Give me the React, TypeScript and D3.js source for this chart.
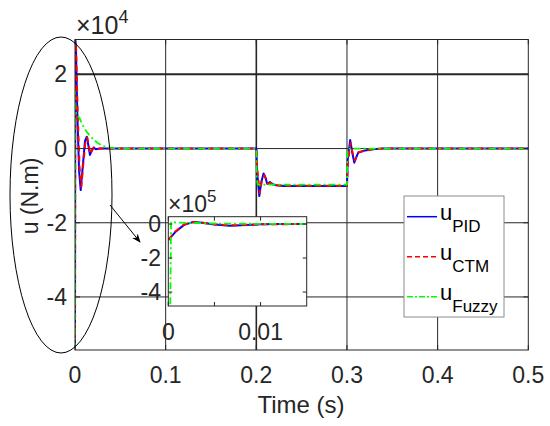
import React from "react";
import * as d3 from "d3";

// ---- main chart data (u in x10^4 N.m, t in s) ----
const xTicks = [0, 0.1, 0.2, 0.3, 0.4, 0.5];
const xTickLabels = ["0", "0.1", "0.2", "0.3", "0.4", "0.5"];
const yTicks = [-4, -2, 0, 2];
const yTickLabels = ["-4", "-2", "0", "2"];

const tPID = [0, 0.0003, 0.001, 0.0025, 0.0045, 0.0063, 0.0085, 0.011, 0.013, 0.015, 0.0165, 0.0185, 0.0205, 0.023, 0.027, 0.033,
  0.2, 0.2008, 0.2033, 0.2055, 0.208, 0.21, 0.212, 0.215, 0.218, 0.222, 0.23, 0.25,
  0.3, 0.3008, 0.3035, 0.3058, 0.308, 0.31, 0.3125, 0.315, 0.32, 0.328, 0.34, 0.5];
const vPID = [-5.43, 2.95, 2.8, 1.0, -0.6, -1.12, -0.5, 0.2, 0.32, 0.05, -0.17, -0.05, 0.03, -0.02, 0.0, 0.0,
  0.0, -0.6, -1.28, -0.9, -0.67, -0.78, -0.95, -0.9, -0.96, -0.99, -1.01, -1.01,
  -1.01, -0.3, 0.23, -0.1, -0.38, -0.25, -0.1, -0.09, -0.05, -0.02, 0.0, 0.0];

const tCTM = [0, 0.0004, 0.0012, 0.003, 0.005, 0.007, 0.009, 0.0115, 0.0135, 0.0155, 0.017, 0.019, 0.021, 0.024, 0.028, 0.033,
  0.2, 0.201, 0.2038, 0.206, 0.2088, 0.2105, 0.2125, 0.2155, 0.219, 0.223, 0.23, 0.25,
  0.3, 0.301, 0.304, 0.306, 0.3085, 0.3105, 0.313, 0.316, 0.321, 0.328, 0.34, 0.5];
const vCTM = [-5.43, 2.85, 2.7, 0.9, -0.5, -1.03, -0.45, 0.18, 0.3, 0.05, -0.15, -0.04, 0.03, -0.02, 0.0, 0.0,
  0.0, -0.55, -1.2, -0.88, -0.72, -0.8, -0.95, -0.92, -0.97, -0.99, -1.0, -1.0,
  -1.0, -0.35, 0.15, -0.1, -0.32, -0.22, -0.1, -0.08, -0.05, -0.02, 0.0, 0.0];

const tFuzzy = [0, 0.0002, 0.0006, 0.002, 0.005, 0.008, 0.012, 0.016, 0.02, 0.025, 0.03, 0.035, 0.04, 0.05,
  0.2, 0.2004, 0.2015, 0.3, 0.3004, 0.3015, 0.5];
const vFuzzy = [-5.43, 1.55, 1.0, 0.9, 0.82, 0.65, 0.48, 0.36, 0.25, 0.15, 0.08, 0.04, 0.02, 0.0,
  0.0, -0.8, -0.97, -0.97, -0.1, 0.0, 0.0];

// ---- inset data (u in x10^5 N.m, t in s) ----
const insetXTicks = [0, 0.005, 0.01];
const insetXTickLabels = ["0", "", "0.01"];
const insetYTicks = [-4, -2, 0];
const insetYTickLabels = ["-4", "-2", "0"];

const tPIDIn = [0, 0.0008, 0.0017, 0.0027, 0.0037, 0.005, 0.0067, 0.0085, 0.01, 0.012, 0.015];
const vPIDIn = [-0.95, -0.45, -0.05, 0.12, 0.08, -0.03, -0.1, -0.06, -0.02, 0.0, 0.0];
const tCTMIn = [0, 0.0008, 0.0017, 0.0027, 0.0037, 0.005, 0.0067, 0.0085, 0.01, 0.012, 0.015];
const vCTMIn = [-0.92, -0.42, -0.03, 0.12, 0.07, -0.02, -0.08, -0.05, -0.02, -0.01, 0.0];
const tFuzzyIn = [0.0002, 0.0003, 0.002, 0.005, 0.01, 0.015];
const vFuzzyIn = [-5.6, 0.1, 0.07, 0.03, 0.01, 0.0];

const seriesNames = ["PID", "CTM", "Fuzzy"];

const FONT = "'Liberation Sans', Arial, Helvetica, sans-serif";
const AX = "#262626";
const TICK_FS = 23;

type S = { t: number[]; v: number[]; color: string; dash: string; width: number };

export default function App() {
  const W = 550, H = 426;
  const L = 75, R = 528.3, T = 39.5, B = 350;
  const x = d3.scaleLinear().domain([0, 0.5]).range([L, R]);
  const y = d3.scaleLinear().domain([-5.43, 2.94]).range([B, T]);

  const iL = 168.3, iR = 306.7, iT = 216.7, iB = 306;
  const xi = d3.scaleLinear().domain([0, 0.015]).range([iL, iR]);
  const yi = d3.scaleLinear().domain([-4.82, 0.43]).range([iB, iT]);

  const mainSeries: S[] = [
    { t: tPID, v: vPID, color: "#0000ff", dash: "none", width: 2 },
    { t: tCTM, v: vCTM, color: "#ff0000", dash: "6,4", width: 2 },
    { t: tFuzzy, v: vFuzzy, color: "#00ff00", dash: "7,3,2,3", width: 1.8 },
  ];
  const insetSeries: S[] = [
    { t: tPIDIn, v: vPIDIn, color: "#0000ff", dash: "none", width: 2 },
    { t: tCTMIn, v: vCTMIn, color: "#ff0000", dash: "6,4", width: 2 },
    { t: tFuzzyIn, v: vFuzzyIn, color: "#00ff00", dash: "7,3,2,3", width: 1.8 },
  ];

  const mkLine = (sx: any, sy: any) =>
    d3.line<[number, number]>().x((d) => sx(d[0])).y((d) => sy(d[1]));
  const mainLine = mkLine(x, y);
  const inLine = mkLine(xi, yi);
  const pts = (s: S) => s.t.map((t, i) => [t, s.v[i]] as [number, number]);

  const legendX = 404, legendY = 196, legendW = 100, legendH = 121;
  const legendRows = [216.7, 256.7, 296.7];

  return (
    <svg width={W} height={H} style={{ position: "absolute", left: 0, top: 0, background: "#fff" }} fontFamily={FONT}>
      <defs>
        <clipPath id="mainClip"><rect x={L} y={T} width={R - L} height={B - T} /></clipPath>
        <clipPath id="inClip"><rect x={iL} y={iT} width={iR - iL} height={iB - iT} /></clipPath>
        <marker id="arrowHead" viewBox="0 0 10 10" refX="9" refY="5" markerWidth="9" markerHeight="9" orient="auto">
          <path d="M0,1 L10,5 L0,9 L3,5 Z" fill="#000" />
        </marker>
      </defs>
      <rect x={0} y={0} width={W} height={H} fill="#fff" />
      {/* grid */}
      {xTicks.slice(1, -1).map((t) => (
        <line key={"gx" + t} x1={x(t)} x2={x(t)} y1={T} y2={B} stroke={AX} strokeWidth={t === 0.2 ? 1.6 : 1} />
      ))}
      {yTicks.map((t) => (
        <line key={"gy" + t} x1={L} x2={R} y1={y(t)} y2={y(t)} stroke={AX} strokeWidth={t === 2 ? 2 : 1} />
      ))}
      {/* data */}
      <g clipPath="url(#mainClip)">
        {mainSeries.map((s, i) => (
          <path key={i} d={mainLine(pts(s)) || ""} fill="none" stroke={s.color} strokeWidth={s.width}
            strokeDasharray={s.dash} strokeLinejoin="round" />
        ))}
      </g>
      {/* axes box */}
      <rect x={L} y={T} width={R - L} height={B - T} fill="none" stroke={AX} strokeWidth={1} />
      {xTicks.map((t, i) => (
        <g key={"xt" + t}>
          <line x1={x(t)} x2={x(t)} y1={B} y2={B - 5} stroke={AX} />
          <line x1={x(t)} x2={x(t)} y1={T} y2={T + 5} stroke={AX} />
          <text x={x(t)} y={383} fontSize={TICK_FS} textAnchor="middle" fill={AX}>{xTickLabels[i]}</text>
        </g>
      ))}
      {yTicks.map((t, i) => (
        <g key={"yt" + t}>
          <line x1={L} x2={L + 5} y1={y(t)} y2={y(t)} stroke={AX} />
          <line x1={R} x2={R - 5} y1={y(t)} y2={y(t)} stroke={AX} />
          <text x={67} y={y(t) + 8} fontSize={TICK_FS} textAnchor="end" fill={AX}>{yTickLabels[i]}</text>
        </g>
      ))}
      <text x={76} y={34} fontSize={25} fill={AX}>
        ×10<tspan fontSize={18} dy={-11}>4</tspan>
      </text>
      <text x={301} y={413} fontSize={24} textAnchor="middle" fill={AX}>Time (s)</text>
      <text transform="translate(38,196) rotate(-90)" fontSize={23} textAnchor="middle" fill={AX}>u (N.m)</text>

      {/* inset */}
      <rect x={iL} y={iT} width={iR - iL} height={iB - iT} fill="#fff" />
      <g clipPath="url(#inClip)">
        {insetSeries.map((s, i) => (
          <path key={i} d={inLine(pts(s)) || ""} fill="none" stroke={s.color} strokeWidth={s.width}
            strokeDasharray={s.dash} strokeLinejoin="round" />
        ))}
      </g>
      <rect x={iL} y={iT} width={iR - iL} height={iB - iT} fill="none" stroke={AX} strokeWidth={1} />
      {insetXTicks.map((t, i) => (
        <g key={"ixt" + t}>
          <line x1={xi(t)} x2={xi(t)} y1={iB} y2={iB - 4} stroke={AX} />
          <line x1={xi(t)} x2={xi(t)} y1={iT} y2={iT + 4} stroke={AX} />
          <text x={xi(t)} y={340} fontSize={TICK_FS} textAnchor="middle" fill={AX}>{insetXTickLabels[i]}</text>
        </g>
      ))}
      {insetYTicks.map((t, i) => (
        <g key={"iyt" + t}>
          <line x1={iL} x2={iL + 4} y1={yi(t)} y2={yi(t)} stroke={AX} />
          <line x1={iR} x2={iR - 4} y1={yi(t)} y2={yi(t)} stroke={AX} />
          <text x={161} y={yi(t) + 8} fontSize={TICK_FS} textAnchor="end" fill={AX}>{insetYTickLabels[i]}</text>
        </g>
      ))}
      <text x={168} y={212} fontSize={23} fill={AX}>
        ×10<tspan fontSize={17} dy={-10}>5</tspan>
      </text>

      {/* ellipse + arrow */}
      <ellipse cx={61} cy={195} rx={51} ry={158} fill="none" stroke="#000" strokeWidth={1} />
      <line x1={110} y1={205} x2={140} y2={242} stroke="#000" strokeWidth={1} markerEnd="url(#arrowHead)" />

      {/* legend */}
      <rect x={legendX} y={legendY} width={legendW} height={legendH} fill="#fff" stroke="#8c8c8c" strokeWidth={1} />
      {seriesNames.map((n, i) => (
        <g key={n}>
          <line x1={407} x2={437} y1={legendRows[i]} y2={legendRows[i]} stroke={mainSeries[i].color}
            strokeWidth={1.5} strokeDasharray={mainSeries[i].dash === "none" ? "none" : i === 1 ? "5,3" : "6,2,2,2"} />
          <text x={440} y={legendRows[i] + 3} fontSize={22} fill="#000">
            u<tspan fontSize={17} dy={12}>{n}</tspan>
          </text>
        </g>
      ))}
    </svg>
  );
}
